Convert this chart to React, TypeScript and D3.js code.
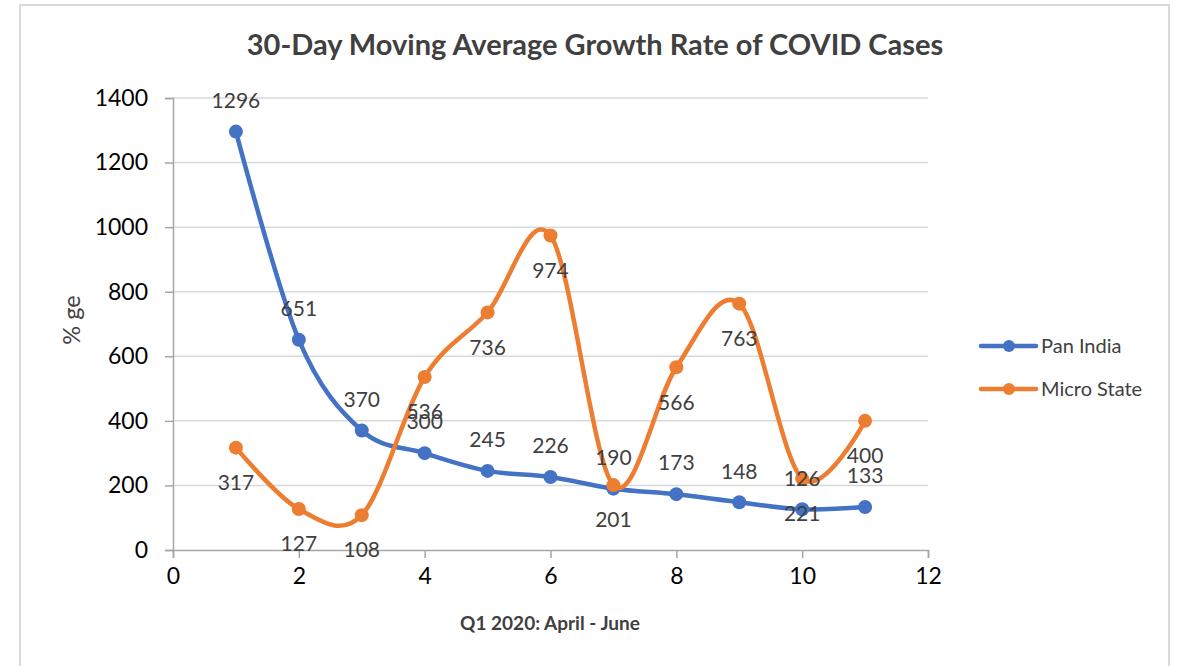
import { useEffect, useRef } from "react";
import * as d3 from "d3";

// Chart data
const periods = [1, 2, 3, 4, 5, 6, 7, 8, 9, 10, 11];
const panIndia = [1296, 651, 370, 300, 245, 226, 190, 173, 148, 126, 133];
const microState = [317, 127, 108, 536, 736, 974, 201, 566, 763, 221, 400];

const xTicks = [0, 2, 4, 6, 8, 10, 12];
const yTicks = [0, 200, 400, 600, 800, 1000, 1200, 1400];

const seriesList = [
  { name: "Pan India", values: panIndia, color: "#4472C4", labelPos: "above" },
  { name: "Micro State", values: microState, color: "#ED7D31", labelPos: "below" },
];

const FONT = "Lato, 'Open Sans', sans-serif";
const WIDTH = 1178;
const HEIGHT = 666;

export default function App() {
  const svgRef = useRef<SVGSVGElement>(null);

  useEffect(() => {
    if (!svgRef.current) return;
    const svg = d3.select(svgRef.current);
    svg.selectAll("*").remove();

    // plot area
    const left = 173;
    const right = 928;
    const top = 98;
    const bottom = 550;

    const x = d3.scaleLinear().domain([0, 12]).range([left, right]);
    const y = d3.scaleLinear().domain([0, 1400]).range([bottom, top]);

    // outer chart border
    svg
      .append("rect")
      .attr("x", 20)
      .attr("y", 5)
      .attr("width", 1149)
      .attr("height", 700)
      .attr("fill", "#fff")
      .attr("stroke", "#d9d9d9")
      .attr("stroke-width", 2);

    // title
    svg
      .append("text")
      .attr("x", 595)
      .attr("y", 55)
      .attr("text-anchor", "middle")
      .attr("font-family", FONT)
      .attr("font-weight", "bold")
      .attr("font-size", 29)
      .attr("fill", "#404040")
      .text("30-Day Moving Average Growth Rate of COVID Cases");

    // horizontal gridlines
    svg
      .append("g")
      .selectAll("line")
      .data(yTicks.filter((t) => t > 0))
      .join("line")
      .attr("x1", left)
      .attr("x2", right)
      .attr("y1", (d) => y(d))
      .attr("y2", (d) => y(d))
      .attr("stroke", "#d9d9d9")
      .attr("stroke-width", 1.5);

    // y axis
    const yAxis = svg
      .append("g")
      .attr("transform", `translate(${left},0)`)
      .call(
        d3
          .axisLeft(y)
          .tickValues(yTicks)
          .tickFormat(d3.format("d"))
          .tickSize(8)
          .tickPadding(17)
      );
    yAxis.select(".domain").attr("stroke", "#a6a6a6").attr("stroke-width", 1.5);
    yAxis.selectAll(".tick line").attr("stroke", "#a6a6a6").attr("stroke-width", 1.5);
    yAxis
      .selectAll(".tick text")
      .attr("font-family", FONT)
      .attr("font-size", 23)
      .attr("fill", "#000");

    // x axis
    const xAxis = svg
      .append("g")
      .attr("transform", `translate(0,${bottom})`)
      .call(d3.axisBottom(x).tickValues(xTicks).tickSize(8).tickPadding(10));
    xAxis.select(".domain").attr("stroke", "#a6a6a6").attr("stroke-width", 1.5);
    xAxis.selectAll(".tick line").attr("stroke", "#a6a6a6").attr("stroke-width", 1.5);
    xAxis
      .selectAll(".tick text")
      .attr("font-family", FONT)
      .attr("font-size", 23)
      .attr("fill", "#000");

    // axis titles
    svg
      .append("text")
      .attr("x", 550)
      .attr("y", 630)
      .attr("text-anchor", "middle")
      .attr("font-family", FONT)
      .attr("font-weight", "bold")
      .attr("font-size", 19)
      .attr("fill", "#404040")
      .text("Q1 2020: April - June");

    svg
      .append("text")
      .attr("transform", `translate(80,${320}) rotate(-90)`)
      .attr("text-anchor", "middle")
      .attr("font-family", FONT)
      .attr("font-size", 23.5)
      .attr("fill", "#404040")
      .text("% ge");

    const line = d3
      .line<number>()
      .x((_, i) => x(periods[i]))
      .y((d) => y(d))
      .curve(d3.curveCatmullRom.alpha(0));

    // series lines + markers
    seriesList.forEach((s) => {
      svg
        .append("path")
        .datum(s.values)
        .attr("fill", "none")
        .attr("stroke", s.color)
        .attr("stroke-width", 4.5)
        .attr("stroke-linecap", "round")
        .attr("d", line);

      svg
        .append("g")
        .selectAll("circle")
        .data(s.values)
        .join("circle")
        .attr("cx", (_, i) => x(periods[i]))
        .attr("cy", (d) => y(d))
        .attr("r", 7)
        .attr("fill", s.color);
    });

    // data labels
    seriesList.forEach((s) => {
      svg
        .append("g")
        .selectAll("text")
        .data(s.values)
        .join("text")
        .attr("x", (_, i) => x(periods[i]))
        .attr("y", (d) => y(d) + (s.labelPos === "above" ? -31 : 35))
        .attr("dy", "0.35em")
        .attr("text-anchor", "middle")
        .attr("font-family", FONT)
        .attr("font-size", 21)
        .attr("fill", "#404040")
        .text((d) => d);
    });

    // legend
    const legend = svg.append("g");
    seriesList.forEach((s, i) => {
      const ly = 346 + i * 43;
      legend
        .append("line")
        .attr("x1", 981)
        .attr("x2", 1036)
        .attr("y1", ly)
        .attr("y2", ly)
        .attr("stroke", s.color)
        .attr("stroke-width", 4.5)
        .attr("stroke-linecap", "round");
      legend
        .append("circle")
        .attr("cx", 1009)
        .attr("cy", ly)
        .attr("r", 6)
        .attr("fill", s.color);
      legend
        .append("text")
        .attr("x", 1041)
        .attr("y", ly)
        .attr("dy", "0.35em")
        .attr("font-family", FONT)
        .attr("font-size", 20)
        .attr("fill", "#404040")
        .text(s.name);
    });
  }, []);

  return (
    <svg
      ref={svgRef}
      width={WIDTH}
      height={HEIGHT}
      style={{ position: "fixed", left: 0, top: 0, background: "#fff" }}
    />
  );
}
